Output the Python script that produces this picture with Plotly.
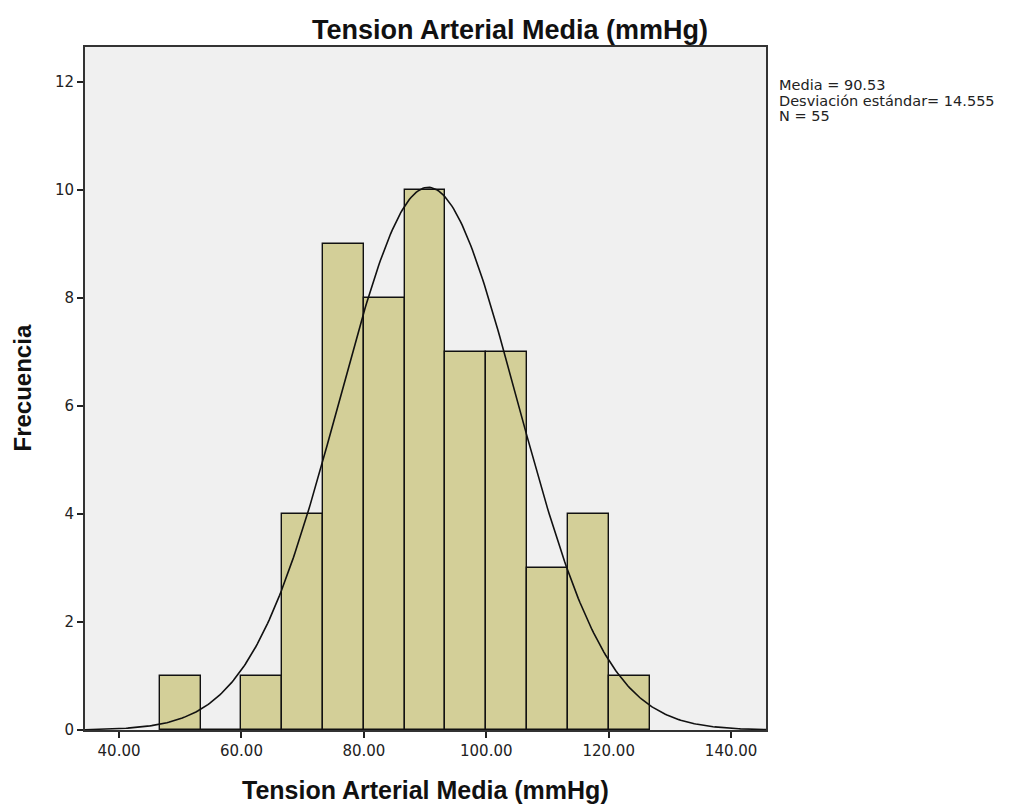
import numpy as np
import plotly.graph_objects as go

# Histogram data
bin_start = 46.667
bin_width = 6.667
counts = [1, 0, 1, 4, 9, 8, 10, 7, 7, 3, 4, 1]
mean_val = 90.53
sd_val = 14.555
n_val = 55

x_tickvals = [40, 60, 80, 100, 120, 140]
y_tickvals = [0, 2, 4, 6, 8, 10, 12]

centers = [bin_start + bin_width * (i + 0.5) for i in range(len(counts))]

# Fitted normal curve scaled to counts
xc = np.linspace(34.44, 145.7, 400)
yc = n_val * bin_width / (sd_val * np.sqrt(2 * np.pi)) * np.exp(-0.5 * ((xc - mean_val) / sd_val) ** 2)

fig = go.Figure()
fig.add_trace(go.Bar(
    x=centers, y=counts, width=[bin_width] * len(counts),
    marker=dict(color="#d3cf98", line=dict(color="#111111", width=1.4)),
    hoverinfo="skip", showlegend=False,
))
fig.add_trace(go.Scatter(
    x=xc, y=yc, mode="lines", line=dict(color="#111111", width=1.6),
    hoverinfo="skip", showlegend=False,
))

title_font = "Liberation Sans Narrow, Arial Narrow, Liberation Sans, sans-serif"
PL, PR, PT, PB = 85, 766, 47, 730
pw, ph = PR - PL, PB - PT

fig.update_layout(
    width=1020, height=806,
    margin=dict(l=PL, r=1020 - PR, t=PT, b=806 - PB, autoexpand=False),
    paper_bgcolor="white", plot_bgcolor="#f0f0f0",
    bargap=0,
    title=dict(text="<b>Tension Arterial Media (mmHg)</b>", x=0.5, xanchor="center",
               y=1 - 30 / 806, yanchor="middle",
               font=dict(family=title_font, size=27, color="#111111")),
    font=dict(family="DejaVu Sans, sans-serif", color="#222222"),
)
fig.update_xaxes(
    range=[34.44, 145.7], tickvals=x_tickvals, tickformat=".2f",
    ticks="outside", ticklen=6, tickcolor="#222222", tickwidth=1.5,
    tickfont=dict(size=15, color="#222222"),
    showgrid=False, zeroline=False, automargin=False,
    showline=True, linecolor="#333333", linewidth=2, mirror=True,
)
fig.update_yaxes(
    range=[0, 12.65], tickvals=y_tickvals,
    ticks="outside", ticklen=6, tickcolor="#222222", tickwidth=1.5,
    tickfont=dict(size=15, color="#222222"),
    showgrid=False, zeroline=False, automargin=False,
    showline=True, linecolor="#333333", linewidth=2, mirror=True,
)

# Axis titles
fig.add_annotation(text="<b>Tension Arterial Media (mmHg)</b>", xref="paper", yref="paper",
                   x=0.5, y=-(790 - PB) / ph, xanchor="center", yanchor="middle", showarrow=False,
                   font=dict(family=title_font, size=25, color="#111111"))
fig.add_annotation(text="<b>Frecuencia</b>", xref="paper", yref="paper", textangle=-90,
                   x=-(PL - 22) / pw, y=0.5, xanchor="center", yanchor="middle", showarrow=False,
                   font=dict(family=title_font, size=24, color="#111111"))

stats_lines = ["Media = %.2f" % mean_val, "Desviación estándar= %.3f" % sd_val, "N = %d" % n_val]
for i, s in enumerate(stats_lines):
    fig.add_annotation(text=s, xref="paper", yref="paper", x=(777 - PL) / pw, xanchor="left",
                       y=1 - (38 + i * 15.5) / ph, yanchor="middle", showarrow=False,
                       font=dict(family="DejaVu Sans, sans-serif", size=14.5, color="#222222"))

fig.write_html("out.html")
